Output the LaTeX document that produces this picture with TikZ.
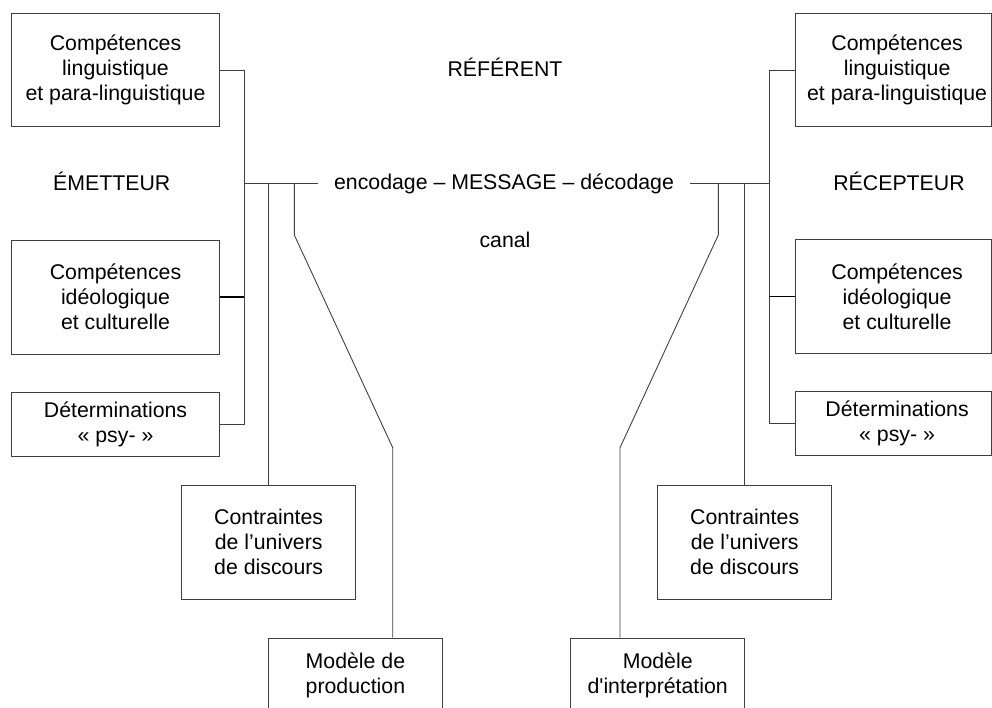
\documentclass[tikz,border=0pt]{standalone}
\usepackage{fontspec}
\setmainfont{Liberation Sans}
\newcommand{\bodyfont}{\fontsize{21.3}{25}\selectfont}
\tikzset{
  lin/.style={draw=black!75, line width=0.9pt},
  heavy/.style={draw=black, line width=1.5pt},
  box/.style={draw=black!75, line width=0.9pt, rectangle, align=center,
    inner sep=0pt, font=\bodyfont},
  boxtext/.style={align=center, inner sep=0pt, font=\bodyfont},
  lbl/.style={inner sep=0pt, font=\bodyfont, anchor=base},
}
\begin{document}
\begin{tikzpicture}[x=1pt, y=-1pt]
\clip (0,0) rectangle (992,707);

% sender side
\node[box, minimum width=207.6pt, minimum height=113.7pt] (L1) at (115.5,70)
  {Compétences\\linguistique\\et para-linguistique};
\node[box, minimum width=207.6pt, minimum height=114pt] (L2) at (115.5,297)
  {Compétences\\idéologique\\et culturelle};
\node[box, minimum width=207.6pt, minimum height=64pt] (L3) at (115.5,424)
  {Déterminations\\« psy- »};
\node[box, minimum width=174pt, minimum height=113.3pt] (LC) at (268.7,542.3)
  {Contraintes\\de l’univers\\de discours};
\node[box, minimum width=174pt, minimum height=74pt] (LM) at (355.4,675)
  {Modèle de\\production};

% receiver side
\node[box, minimum width=195.6pt, minimum height=113.7pt,
  label={[boxtext, xshift=3.6pt]center:{Compétences\\linguistique\\et para-linguistique}}]
  (R1) at (893.5,70) {};
\node[box, minimum width=195.6pt, minimum height=113.7pt,
  label={[boxtext, xshift=3.6pt]center:{Compétences\\idéologique\\et culturelle}}]
  (R2) at (893.5,296.7) {};
\node[box, minimum width=195.6pt, minimum height=64pt,
  label={[boxtext, xshift=3.6pt]center:{Déterminations\\« psy- »}}]
  (R3) at (893.5,423.7) {};
\node[box, minimum width=174pt, minimum height=113.3pt] (RC) at (744.7,542.3)
  {Contraintes\\de l’univers\\de discours};
\node[box, minimum width=174pt, minimum height=74pt] (RM) at (657.7,675)
  {Modèle\\d\textquotesingle interprétation};

% free labels
\node[lbl] (ref) at (505,76) {RÉFÉRENT};
\node[lbl] (em) at (111.7,190.6) {ÉMETTEUR};
\node[lbl] (rec) at (899,190.6) {RÉCEPTEUR};
\node[lbl] (can) at (505,247.3) {canal};
\node[inner xsep=15.5pt, inner ysep=0pt, font=\bodyfont] (M) at (504,183.5)
  {encodage – MESSAGE – décodage};

% bus and bend points
\coordinate (lbus) at (244.3,0);
\coordinate (rbus) at (769.3,0);
\coordinate (lk1) at (294.3,235);
\coordinate (lk2) at (392.7,447.7);
\coordinate (rk1) at (718.3,235);
\coordinate (rk2) at (620,447.7);

% sender connections
\draw[lin] (L1.east) -- (L1.east -| lbus) -- (L3.east -| lbus) -- (L3.east);
\draw[heavy] (L2.east) -- (L2.east -| lbus);
\draw[lin] (lbus |- M.west) -- (M.west);
\draw[lin] (LC.north |- M.west) -- (LC.north);
\draw[lin] (lk1 |- M.west) -- (lk1) -- (lk2) -- (LM.north -| lk2);

% receiver connections
\draw[lin] (R1.west) -- (R1.west -| rbus) -- (R3.west -| rbus) -- (R3.west);
\draw[heavy] (R2.west) -- (R2.west -| rbus);
\draw[lin] (M.east) -- (M.east -| rbus);
\draw[lin] (RC.north |- M.east) -- (RC.north);
\draw[lin] (rk1 |- M.east) -- (rk1) -- (rk2) -- (RM.north -| rk2);
\end{tikzpicture}
\end{document}
